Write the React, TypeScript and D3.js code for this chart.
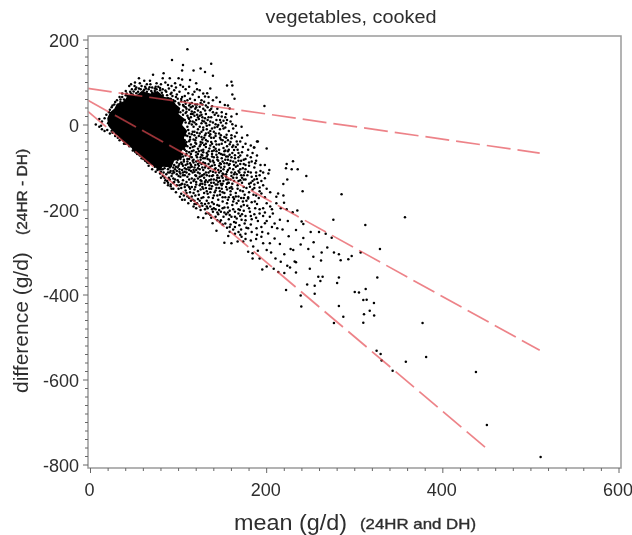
import React from "react";
import * as d3 from "d3";

type Pt = [number, number];

const xMajor = [0, 200, 400, 600];
const yMajor = [200, 0, -200, -400, -600, -800];
const minorStep = 20;

// [mean, difference] limit lines, read at both ends
const upperLimit: Pt[] = [[-3, 86], [510, -66]];
const middleLine: Pt[] = [[-3, 58], [510, -530]];
const lowerLimit: Pt[] = [[-3, 32], [452, -765]];

// outline of the part of the cloud that is solid black
const solidCore: Pt[] = [
  [19, 16], [22, 30], [27, 38], [30, 50], [38, 56], [43, 72], [52, 70], [58, 80], [68, 74], [76, 80],
  [84, 66], [92, 64], [97, 48], [102, 40], [100, 26], [107, 14], [104, 0], [110, -14], [106, -30],
  [110, -48], [103, -62], [104, -78], [95, -84], [92, -100], [82, -98], [78, -108], [70, -92],
  [64, -92], [58, -76], [50, -66], [46, -52], [38, -42], [31, -26], [24, -12], [20, -2],
];

const topFringe: Pt[] = [
  [110, 178], [92.5, 153], [105, 141], [137, 144], [104, 128], [117, 128], [125, 133], [130, 125],
  [139, 116], [71, 118], [83, 122], [82, 110], [55, 110], [61, 104], [50.5, 100], [67.5, 104],
  [90, 110], [100, 110], [104, 107], [113, 106], [120, 98], [121, 84], [160, 102], [155, 93],
  [161, 93], [136, 86], [132.5, 75], [161, 72], [163.5, 62], [143, 65], [130, 67], [129, 55],
  [147, 54], [152.5, 47], [156, 46], [197.5, 45], [158, 39], [166, 26], [160, 20], [154, 26],
  [147, 12], [141, 24], [135.5, 35], [124, 43], [118.5, 59], [111, 75], [105, 90], [96, 98],
  [88, 94], [75, 98], [44, 92], [47, 84], [40, 80], [36, 74], [33, 66], [30, 58], [52, 88],
  [58, 92], [64, 96], [70, 88], [77, 90], [82, 84], [89, 86], [95, 82], [101, 78], [107, 68],
  [113, 62], [116, 72], [123, 66], [126, 58], [134, 52], [138, 44], [144, 38], [149, 30],
  [153, 18], [128, 38], [121, 48], [115, 52], [110, 58], [104, 66], [98, 72], [92, 76],
  [86, 78], [79, 82], [73, 80], [66, 84], [60, 80], [54, 78], [48, 72], [42, 68], [38, 60],
  [27, 48], [24, 42], [21, 30], [18, 24], [16, 16], [13, 8], [20, 4], [12, -2], [6, 1], [10, 14],
  [106, 44], [112, 36], [118, 30], [124, 22], [130, 16], [136, 8], [142, 2], [112, 46],
  [108, 28], [114, 18], [120, 12], [126, 4], [132, -2], [138, -8], [144, -4], [150, -2],
  [107, 12], [112, 4], [117, -4], [122, -10], [128, -12], [134, -18], [140, -16], [146, -20],
  [46, 96], [50, 92], [56, 98], [62, 90], [68, 96], [74, 90], [80, 96], [85, 100], [92, 92],
  [97, 88], [102, 94], [108, 84], [112, 90], [118, 78], [124, 82], [128, 74], [134, 66], [139, 58],
  [36, 66], [41, 74], [45, 78], [51, 84], [57, 84], [63, 86], [69, 80], [75, 84], [81, 76], [87, 70],
  [93, 68], [99, 62], [103, 56], [108, 50], [114, 42], [119, 38], [125, 30], [131, 26], [137, 18],
  [143, 12], [148, 6], [154, 4], [159, 8], [34, 54], [39, 56], [44, 62], [49, 68], [96, 56], [101, 48],
  [105, 34], [110, 22], [116, 26], [122, 34], [127, 48], [133, 42], [139, 30], [145, 22], [151, 10],
  [112, 14], [118, 6], [123, 14], [129, 8], [135, 0], [141, -6], [147, -10], [153, -6], [157, -14],
  [109, 38], [115, 32], [121, 24], [127, 18], [133, 12], [139, 6], [145, 0], [107, 56], [113, 50],
  [119, 48], [125, 52], [131, 46], [137, 38], [143, 28], [149, 20], [155, 12], [161, 2], [165, -2],
];

// points packed round the solid part
const coreEdge: Pt[] = [
  [22, 36], [25, 46], [28, 54], [31, 47], [34, 60], [37, 52], [40, 70], [43, 64], [46, 74], [49, 79],
  [52, 75], [55, 86], [58, 74], [61, 83], [64, 78], [67, 89], [70, 76], [73, 86], [76, 74], [79, 87],
  [82, 70], [85, 81], [88, 63], [91, 73], [94, 58], [97, 66], [100, 52], [103, 61], [105, 47], [108, 42],
  [99, 38], [102, 30], [105, 24], [109, 31], [111, 17], [104, 10], [108, 6], [113, 9], [110, -4], [115, 1],
  [106, -10], [111, -12], [116, -16], [108, -24], [113, -28], [118, -24], [107, -36], [112, -38], [117, -34],
  [121, -18], [123, -26], [127, -34], [120, -44], [125, -46], [108, -46], [113, -54], [118, -50], [123, -62],
  [106, -56], [109, -62], [115, -62], [120, -72], [125, -76], [104, -68], [108, -72], [112, -80], [117, -82],
  [122, -84], [102, -80], [106, -82], [110, -86], [114, -94], [119, -94], [98, -88], [101, -92], [105, -96],
  [109, -104], [113, -100], [94, -100], [97, -98], [101, -104], [105, -118], [91, -108], [88, -104], [84, -102],
  [80, -104], [76, -100], [72, -94], [68, -90], [64, -84], [60, -80], [56, -72], [52, -62], [48, -52],
  [127, 10], [131, 4], [134, 18], [126, 24], [130, 34], [122, 18], [118, 22], [114, 26], [120, 42], [116, 44],
  [128, -6], [132, -10], [136, -14], [124, -4], [120, 2], [116, 8], [126, -16], [131, -20], [135, -26], [140, -30],
  [129, -30], [133, -38], [138, -44], [127, -42], [131, -52], [136, -48], [142, -56], [146, -46], [150, -36],
  [128, -64], [133, -70], [138, -62], [143, -62], [148, -68], [153, -60], [130, -78], [135, -82], [140, -76],
  [145, -84], [150, -86], [155, -90], [126, -92], [131, -96], [136, -98], [141, -104], [146, -112], [151, -104],
  [127, -100], [122, -102], [117, -106], [112, -116], [107, -110], [102, -114], [98, -108], [93, -114],
  [124, -122], [129, -116], [134, -112], [139, -118], [144, -124], [149, -120], [154, -128], [159, -128],
  [120, -134], [125, -138], [130, -134], [135, -130], [140, -136], [145, -134], [150, -138], [155, -152],
  [157, -58], [159, -40], [162, -48], [165, -52], [168, -66], [156, -36], [152, -28], [147, -30], [142, -20],
  [163, -94], [158, -92], [153, -82], [148, -92], [171, -84], [167, -96], [160, -76], [156, -106], [151, -116],
  [163, -116], [169, -112], [174, -118], [147, -132], [142, -140], [137, -150], [132, -156], [127, -146],
];

const rightFlank: Pt[] = [
  [171.5, -4], [162, -8], [178, -24], [189, -39], [185.5, -53], [200, -55], [164, -27], [166, -39],
  [154.5, -23], [151, -8], [190, -39], [186, -53], [198, -94], [203, -106], [202, -114], [198, -125],
  [189, -127], [204, -158], [213, -161], [179, -110], [187, -90], [183, -86], [174, -82], [164, -71],
  [170, -39], [160, -31], [163, -59], [176, -94], [181, -145], [192, -147], [194, -161],
  [106, -18], [110, -26], [115, -22], [120, -30], [126, -28], [131, -35], [137, -30], [142, -38],
  [148, -34], [153, -40], [158, -45], [104, -34], [109, -40], [114, -46], [119, -42], [124, -50],
  [129, -47], [135, -55], [140, -52], [146, -58], [151, -54], [156, -62], [161, -66], [167, -58],
  [172, -64], [178, -72], [103, -52], [107, -58], [112, -64], [117, -60], [122, -68], [127, -72],
  [132, -66], [138, -74], [143, -70], [149, -78], [154, -74], [159, -84], [165, -88], [170, -92],
  [101, -68], [105, -74], [110, -80], [115, -76], [120, -86], [125, -82], [130, -90], [136, -86],
  [141, -94], [147, -90], [152, -98], [157, -94], [162, -104], [168, -108], [173, -102],
  [96, -72], [99, -82], [103, -88], [108, -94], [113, -90], [118, -100], [123, -96], [128, -106],
  [134, -102], [139, -110], [145, -106], [150, -114], [155, -110], [160, -120], [166, -124],
  [171, -118], [176, -128], [183, -122], [188, -112], [193, -108], [92, -86], [95, -94],
  [99, -100], [104, -106], [109, -112], [114, -108], [119, -118], [124, -114], [129, -124],
  [135, -120], [140, -128], [146, -124], [151, -132], [156, -128], [161, -138], [167, -142],
  [172, -136], [177, -148], [186, -140], [90, -100], [94, -108], [98, -116], [102, -122],
  [107, -118], [112, -128], [117, -132], [122, -126], [127, -138], [133, -134], [138, -144],
  [144, -140], [149, -150], [154, -146], [159, -156], [165, -160], [170, -154], [175, -164],
  [180, -158], [188, -166], [85, -94], [88, -112], [92, -120], [96, -128], [100, -134],
  [105, -130], [110, -142], [115, -146], [120, -140], [125, -152], [131, -148], [136, -158],
  [142, -154], [147, -164], [152, -160], [157, -170], [163, -174], [168, -168], [173, -180],
  [82, -104], [86, -116], [90, -128], [94, -136], [98, -142], [103, -148], [108, -154],
  [113, -158], [118, -152], [123, -164], [129, -160], [134, -170], [140, -166], [145, -176],
  [150, -180], [155, -184], [161, -188], [166, -184], [171, -192], [76, -92], [80, -110],
  [84, -124], [87, -132], [91, -140], [127, -118], [143, -130], [158, -148], [113, -74],
  [126, -60], [139, -84], [152, -70], [168, -76], [180, -96], [138, -96], [148, -100],
  [124, -104], [131, -112], [117, -88], [109, -68], [121, -76], [133, -80], [144, -82],
  [156, -82], [165, -98], [175, -112], [186, -128], [194, -132], [128, -88], [142, -112],
  [154, -122], [163, -132], [174, -146], [184, -152], [135, -142], [146, -148], [157, -136],
  [170, -130], [182, -136], [118, -128], [126, -132], [137, -128], [148, -138], [160, -146],
  [116, -112], [104, -92], [111, -100], [122, -112], [101, -110], [107, -102], [96, -104],
  [84, -88], [78, -98], [72, -86], [69, -82], [74, -78], [88, -82], [93, -76], [90, -68],
  [112, -20], [118, -16], [124, -20], [130, -24], [136, -22], [142, -26], [148, -24], [154, -30],
  [160, -24], [166, -18], [172, -30], [176, -44], [182, -48], [113, -34], [119, -36], [125, -40],
  [131, -44], [137, -40], [143, -46], [149, -44], [155, -50], [161, -52], [167, -46], [173, -52],
  [179, -58], [184, -66], [189, -72], [110, -50], [116, -52], [122, -56], [128, -58], [134, -62],
  [140, -60], [146, -66], [152, -62], [158, -70], [164, -78], [170, -72], [176, -80], [182, -76],
  [188, -84], [193, -94], [114, -68], [120, -64], [126, -70], [132, -74], [138, -68], [144, -76],
  [150, -70], [156, -74], [162, -86], [168, -84], [174, -92], [180, -88], [186, -100], [192, -118],
  [116, -84], [122, -92], [128, -78], [134, -92], [140, -88], [146, -96], [152, -90], [158, -102],
  [164, -112], [170, -104], [176, -104], [182, -112], [188, -120], [196, -112], [112, -106],
  [118, -110], [124, -88], [130, -100], [136, -108], [142, -102], [148, -108], [154, -116],
  [160, -112], [166, -116], [172, -124], [178, -118], [184, -132], [190, -136], [196, -142],
  [106, -86], [110, -92], [115, -98], [120, -106], [126, -120], [132, -118], [138, -120],
  [144, -118], [150, -124], [156, -136], [162, -124], [168, -132], [174, -128], [180, -138],
  [186, -148], [192, -156], [200, -150], [100, -96], [105, -112], [110, -122], [115, -126],
  [120, -120], [125, -130], [131, -130], [137, -136], [143, -148], [149, -142], [155, -138],
  [161, -150], [167, -150], [173, -156], [179, -170], [185, -164], [191, -172], [198, -170],
  [95, -112], [100, -120], [104, -138], [109, -134], [114, -136], [119, -146], [124, -142],
  [130, -140], [135, -150], [141, -158], [147, -156], [153, -170], [159, -164], [165, -168],
  [171, -172], [177, -178], [183, -182], [189, -186], [90, -112], [94, -126], [99, -130],
  [103, -140], [107, -140], [112, -146], [117, -160], [122, -156], [128, -150], [133, -162],
  [139, -172], [144, -166], [150, -158], [156, -176], [162, -170], [168, -178], [174, -188],
];

const lowerFlank: Pt[] = [
  [200, -184], [186.6, -180], [179, -173], [211, -184], [215, -223], [203.6, -216], [192, -208],
  [181, -204], [169.6, -200], [171.5, -223], [179, -243], [188.5, -243], [198, -231], [201.7, -255],
  [212, -243], [209, -267], [203.6, -278], [200, -294], [190, -296], [184.7, -286], [194, -263],
  [171.5, -263], [173.4, -274], [167, -274], [160, -278], [152, -277], [156.4, -261], [158, -251],
  [143, -249], [138.6, -231], [128, -219], [122.3, -217], [107, -176], [101.5, -169], [184, -302],
  [184, -314], [192, -314], [200, -333], [179, -298],
  [10, -4], [13, -10], [16, -14], [19, -12], [22, -20], [25, -18], [28, -26], [31, -30], [34, -28],
  [37, -36], [40, -44], [43, -40], [46, -50], [49, -56], [52, -54], [55, -62], [58, -70], [61, -66],
  [64, -76], [67, -84], [70, -92], [73, -98], [76, -106], [79, -114], [82, -120], [85, -130],
  [88, -136], [91, -144], [94, -150], [97, -158], [100, -150], [103, -162], [106, -166], [109, -160],
  [112, -172], [115, -168], [118, -178], [121, -184], [124, -178], [127, -190], [130, -186],
  [133, -196], [136, -192], [139, -204], [142, -198], [145, -210], [148, -204], [151, -216],
  [154, -210], [157, -222], [160, -216], [163, -228], [166, -220], [169, -236], [175, -232],
  [176, -214], [183, -222], [190, -226], [196, -214], [104, -176], [111, -184], [117, -192],
  [125, -200], [131, -208], [137, -218], [144, -224], [150, -234], [155, -242], [162, -246],
  [168, -252], [176, -256], [164, -240], [148, -224], [134, -208], [120, -196], [140, -186],
  [152, -194], [164, -204], [178, -190], [187, -196], [196, -196], [206, -198], [146, -190],
  [158, -202], [172, -210], [182, -214], [66, -74], [60, -62], [54, -50], [47, -44], [41, -36],
  [35, -32], [29, -20], [24, -14], [77, -100], [83, -112], [89, -124], [95, -134], [101, -142],
  [107, -146], [113, -150], [119, -166], [126, -172], [132, -178], [138, -182], [144, -188],
  [150, -170], [156, -194], [162, -180], [168, -198], [174, -172], [116, -176], [122, -174],
  [128, -170], [134, -184], [140, -196], [146, -200], [152, -206], [158, -212], [164, -216],
  [170, -214], [176, -224], [182, -234], [188, -218], [194, -240], [200, -226], [206, -240],
  [110, -168], [114, -178], [120, -186], [126, -184], [132, -192], [138, -198], [144, -206],
  [150, -196], [156, -206], [162, -198], [168, -208], [174, -202], [180, -196], [186, -210],
  [192, -198], [198, -206], [204, -192], [147, -228], [153, -232], [159, -234], [165, -230],
  [171, -246], [177, -242], [183, -252], [189, -258], [195, -252], [158, -240], [164, -256],
  [170, -258], [176, -268], [182, -272], [188, -268], [196, -278], [142, -216], [136, -212],
  [130, -198], [124, -192], [118, -186], [92, -150], [88, -142], [84, -136], [80, -124], [74, -110],
  [70, -104], [66, -96], [62, -84], [58, -78], [53, -68], [48, -60], [44, -50], [38, -44], [33, -36],
];

const sparseTail: Pt[] = [
  [222.7, -92], [229.9, -85], [221.9, -102], [228.4, -104], [235.2, -104], [245, -120], [223.4, -128],
  [218.9, -139], [240.8, -156], [285, -163], [219, -166], [211, -169], [219.7, -183], [222.7, -198],
  [234.8, -201], [229.5, -205], [275.7, -223], [312, -235], [357, -217], [328.6, -292], [306.7, -300],
  [296.5, -308], [292.7, -316], [284, -318], [276.4, -300], [282, -304], [268.8, -288], [262.4, -300],
  [261.7, -319], [253, -310], [247.3, -292], [253.3, -276], [259.4, -252], [267, -256], [273.8, -265],
  [250, -252], [241.6, -266], [238.6, -281], [233.3, -247], [239.7, -227], [241.6, -233], [227.2, -292],
  [230.2, -294], [231.8, -321], [233.3, -323], [226.5, -335], [223.4, -331], [249, -338], [233.3, -347],
  [220, -348], [213.2, -346], [258.6, -357], [263.5, -357], [282, -359], [280, -372], [325.6, -359],
  [246, -375], [254.5, -378], [261, -367], [254.5, -397], [222, -388], [238.6, -401], [239.3, -427],
  [300, -393], [304.8, -394], [312.4, -386], [309.7, -412], [313.5, -411], [321.8, -419], [317, -437],
  [322, -448], [310.5, -445], [309.7, -465], [282, -426], [287, -451], [276.4, -466], [324.8, -531],
  [329.4, -539], [330.5, -554], [358, -557], [343, -578], [377, -466], [381, -546], [437.6, -581],
  [450, -706], [511, -781], [207, -208], [216, -196], [224, -226], [218, -246], [209, -232], [225, -262],
  [215, -280], [220, -304], [210, -314], [205, -300], [216, -322], [208, -338], [195, -340],
];

const cloud: Pt[] = [...topFringe, ...coreEdge, ...rightFlank, ...lowerFlank, ...sparseTail];

const width = 632;
const height = 535;
const frame = { left: 88, right: 621, top: 36, bottom: 468 };

const x = d3.scaleLinear().domain([0, 600]).range([90.5, 619]);
const y = d3.scaleLinear().domain([200, -800]).range([40, 465]);

const xMinor = d3.range(0, 601, minorStep);
const yMinor = d3.range(-800, 201, minorStep);

const lineGen = d3.line<Pt>().x((d) => x(d[0])).y((d) => y(d[1]));

const sans = "'Liberation Sans', Arial, sans-serif";
const axisGrey = "#9a9a9a";
const textColor = "#2e2e2e";

export default function App() {
  return (
    <svg
      width={width}
      height={height}
      viewBox={`0 0 ${width} ${height}`}
      style={{ position: "absolute", left: 0, top: 0, background: "#fff" }}
      fontFamily={sans}
    >
      <defs>
        <filter id="soft" x="-5%" y="-5%" width="110%" height="110%">
          <feGaussianBlur stdDeviation="0.5" />
        </filter>
      </defs>

      <g filter="url(#soft)">
        <path d={`${lineGen(solidCore)}Z`} fill="#060606" />
        <g fill="#000">
          {cloud.map((d, i) => (
            <circle key={i} cx={x(d[0])} cy={y(d[1])} r={1.25} />
          ))}
        </g>
        <g fill="none" stroke="#e4484f" strokeOpacity={0.68} strokeWidth={1.7} strokeDasharray="24 7">
          <path d={lineGen(upperLimit) ?? ""} />
          <path d={lineGen(middleLine) ?? ""} />
          <path d={lineGen(lowerLimit) ?? ""} />
        </g>

        <rect
          x={frame.left}
          y={frame.top}
          width={frame.right - frame.left}
          height={frame.bottom - frame.top}
          fill="none"
          stroke={axisGrey}
          strokeWidth={1.5}
        />
        <g stroke="#666" strokeWidth={1}>
          {xMinor.map((t) => (
            <line key={t} x1={x(t)} x2={x(t)} y1={frame.bottom} y2={frame.bottom + (t % 200 === 0 ? 5 : 3)} />
          ))}
          {yMinor.map((t) => (
            <line key={t} y1={y(t)} y2={y(t)} x1={frame.left} x2={frame.left - (t % 200 === 0 ? 5 : 3)} />
          ))}
        </g>

        <g fill={textColor} fontSize={18}>
          {xMajor.map((t) => (
            <text key={t} x={x(t) - 1} y={496} textAnchor="middle">
              {t}
            </text>
          ))}
          {yMajor.map((t) => (
            <text key={t} x={79} y={y(t) + 6.5} textAnchor="end">
              {t}
            </text>
          ))}
        </g>

        <text x={351} y={23} textAnchor="middle" fontSize={18} fill={textColor} textLength={171} lengthAdjust="spacingAndGlyphs">
          vegetables, cooked
        </text>

        <text x={234} y={530} fontSize={22} fill={textColor} textLength={113} lengthAdjust="spacingAndGlyphs">
          mean (g/d)
        </text>
        <text x={360} y={529} fontSize={15} stroke={textColor} strokeWidth={0.35} fill={textColor} textLength={116} lengthAdjust="spacingAndGlyphs">
          (24HR and DH)
        </text>

        <text transform="translate(28,393) rotate(-90)" fontSize={21} fill={textColor}>
          difference (g/d)
        </text>
        <text transform="translate(27,235) rotate(-90)" fontSize={15.5} stroke={textColor} strokeWidth={0.35} fill={textColor}>
          (24HR - DH)
        </text>
      </g>
    </svg>
  );
}
